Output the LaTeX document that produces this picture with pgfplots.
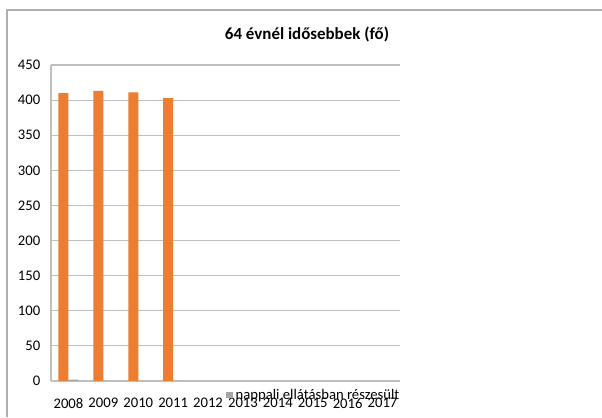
\documentclass[border=0pt]{standalone}
\usepackage{pgfplots}
\pgfplotsset{compat=1.18}
\usepackage{fontspec}
\setmainfont{Carlito}
\definecolor{xlorange}{HTML}{ED7D31}
\definecolor{xlgray}{HTML}{A5A5A5}
\definecolor{gridc}{HTML}{BFBFBF}
\definecolor{framec}{HTML}{B0B0B0}
\begin{document}
\begin{tikzpicture}
\path[use as bounding box] (0,0) rectangle (451.5pt,312.75pt);
\draw[framec, line width=0.8pt] (5.25pt,0) -- (5.25pt,305.25pt) -- (451.5pt,305.25pt);
\node[font=\fontsize{12.7}{15}\selectfont\bfseries] at (230.25pt,286.5pt) {64 évnél idősebbek (fő)};
\begin{axis}[
  at={(38.25pt,27pt)}, anchor=south west,
  scale only axis, width=261.75pt, height=237pt,
  xmin=-0.5, xmax=9.5, ymin=0, ymax=450,
  ytick={0,50,...,450},
  xtick={0,...,9},
  xticklabels={2008,2009,2010,2011,2012,2013,2014,2015,2016,2017},
  major tick length=0pt,
  axis x line*=bottom, axis y line*=left,
  axis line style={gridc, line width=0.8pt, -},
  ymajorgrids, grid style={gridc, line width=0.8pt},
  tick label style={font=\fontsize{11}{13}\selectfont, black},
  /pgf/number format/assume math mode=true,
  yticklabel style={xshift=-4.5pt},
  xticklabel style={yshift=-9.5pt},
  ybar, bar width=7.5pt,
  legend style={at={(0.501,-0.0443)}, anchor=west, draw=none, fill=none,
    inner sep=0pt, font=\fontsize{11}{13}\selectfont},
  legend image code/.code={\fill[xlgray] (0pt,-2.6pt) rectangle (5.2pt,2.6pt);},
  legend cell align=left,
]
\addplot[fill=xlorange, draw=none, bar shift=-3.75pt, forget plot] coordinates {(0,410) (1,413) (2,411) (3,403)};
\addplot[fill=xlgray, draw=none, bar shift=3.75pt] coordinates {(0,2) (1,0) (2,0) (3,0)};
\addlegendentry{nappali ellátásban részesült}
\end{axis}
\end{tikzpicture}
\end{document}
